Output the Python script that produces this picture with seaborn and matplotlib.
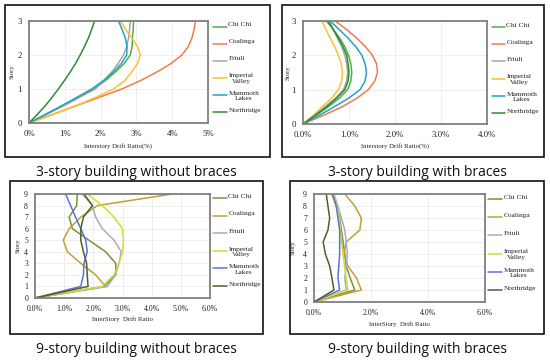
import numpy as np
import pandas as pd
import matplotlib
matplotlib.use("Agg")
import matplotlib.pyplot as plt
import seaborn as sns
from matplotlib.patches import Rectangle
from matplotlib.lines import Line2D

# canvas size in px (dpi 100)
W, H = 550, 361

quakes = ["Chi Chi", "Coalinga", "Friuli", "Imperial\nValley", "Mammoth\nLakes", "Northridge"]

# story levels read on the curves
story3 = [0, 0.25, 0.5, 0.75, 1, 1.25, 1.5, 1.75, 2, 2.25, 2.5, 2.75, 3]
story9 = [0, 1, 2, 3, 4, 5, 6, 7, 8, 9]

# interstory drift ratio (%) - 3-story without braces
chichi_3a = [0, 0.46, 0.91, 1.36, 1.80, 2.14, 2.41, 2.66, 2.83, 2.88, 2.89, 2.91, 2.92]
coalinga_3a = [0, 0.66, 1.29, 1.95, 2.59, 3.12, 3.57, 3.97, 4.27, 4.45, 4.55, 4.61, 4.65]
friuli_3a = [0, 0.49, 0.96, 1.41, 1.85, 2.10, 2.31, 2.49, 2.64, 2.73, 2.78, 2.81, 2.83]
imperial_3a = [0, 0.66, 1.29, 1.86, 2.36, 2.68, 2.87, 3.03, 3.11, 3.03, 2.87, 2.70, 2.55]
mammoth_3a = [0, 0.46, 0.90, 1.33, 1.75, 2.08, 2.36, 2.58, 2.73, 2.74, 2.69, 2.60, 2.50]
northridge_3a = [0, 0.23, 0.45, 0.64, 0.82, 0.99, 1.15, 1.30, 1.43, 1.55, 1.66, 1.75, 1.83]

# 3-story with braces
chichi_3b = [0, 0.28, 0.55, 0.79, 0.97, 1.04, 1.06, 1.04, 0.99, 0.91, 0.80, 0.66, 0.51]
coalinga_3b = [0, 0.44, 0.85, 1.17, 1.42, 1.56, 1.62, 1.60, 1.51, 1.36, 1.17, 0.95, 0.70]
friuli_3b = [0, 0.25, 0.48, 0.70, 0.88, 0.95, 0.97, 0.95, 0.91, 0.84, 0.75, 0.66, 0.57]
imperial_3b = [0, 0.22, 0.42, 0.62, 0.77, 0.84, 0.86, 0.83, 0.77, 0.69, 0.59, 0.50, 0.41]
mammoth_3b = [0, 0.35, 0.68, 0.99, 1.24, 1.35, 1.38, 1.35, 1.28, 1.15, 0.98, 0.79, 0.59]
northridge_3b = [0, 0.26, 0.51, 0.73, 0.91, 0.98, 1.00, 0.98, 0.95, 0.87, 0.77, 0.66, 0.54]

# 9-story without braces
chichi_9a = [0, 2.37, 2.77, 2.77, 2.42, 1.85, 1.28, 1.17, 1.43, 1.45]
coalinga_9a = [0, 2.42, 2.08, 1.57, 1.11, 0.97, 1.17, 1.57, 2.14, 4.71]
friuli_9a = [0, 2.48, 2.76, 2.88, 2.96, 2.71, 2.31, 2.08, 1.97, 1.62]
imperial_9a = [0, 2.30, 2.71, 2.88, 3.00, 3.03, 3.00, 2.71, 2.31, 1.79]
mammoth_9a = [0, 1.57, 1.66, 1.68, 1.79, 1.74, 1.57, 1.39, 1.22, 1.05]
northridge_9a = [0, 1.82, 1.79, 1.77, 1.66, 1.57, 1.57, 1.66, 1.97, 1.68]

# 9-story with braces
chichi_9b = [0, 1.43, 1.27, 1.13, 1.08, 1.02, 0.96, 0.90, 0.78, 0.63]
coalinga_9b = [0, 1.66, 1.49, 1.19, 1.05, 1.13, 1.61, 1.66, 1.43, 1.08]
friuli_9b = [0, 1.13, 1.08, 1.13, 1.17, 1.13, 1.08, 0.96, 0.84, 0.70]
imperial_9b = [0, 1.19, 1.13, 1.07, 1.02, 0.96, 0.93, 0.88, 0.80, 0.70]
mammoth_9b = [0, 0.90, 0.84, 0.87, 0.90, 0.90, 0.90, 0.84, 0.78, 0.66]
northridge_9b = [0, 0.70, 0.63, 0.55, 0.40, 0.32, 0.49, 0.55, 0.49, 0.43]

ticks_3a = ["0%", "1%", "2%", "3%", "4%", "5%"]
ticks_3b = ["0.0%", "1.0%", "2.0%", "3.0%", "4.0%"]
ticks_9a = ["0.0%", "1.0%", "2.0%", "3.0%", "4.0%", "5.0%", "6.0%"]
ticks_9b = ["0.0%", "2.0%", "4.0%", "6.0%"]

colors_top = ["#4DB04A", "#F47A4A", "#A5A5A5", "#FCC030", "#22A4C8", "#2F8A3A"]
colors_bot = ["#76923C", "#C0A034", "#A9A9C4", "#D6DB2A", "#5A74D6", "#4F6228"]


def make_df(stories, series):
    rows = []
    for name, vals in zip(quakes, series):
        for s, v in zip(stories, vals):
            rows.append({"quake": name, "story": s, "drift": v})
    return pd.DataFrame(rows)


panels = [
    dict(df=make_df(story3, [chichi_3a, coalinga_3a, friuli_3a, imperial_3a, mammoth_3a, northridge_3a]),
         rect=(29, 21, 208, 123), xmax=5, ymax=3, xticks=[0, 1, 2, 3, 4, 5], xlabels=ticks_3a,
         xlabel="Interstory Drift Ratio(%)", colors=colors_top,
         xlab_y=146, ylab_x=12, leg=(213, 227, 26.5, 17.1), tick_fs=6.3,
         box=(5, 5, 270, 157), caption="3-story building without braces", cap=(136, 172)),
    dict(df=make_df(story3, [chichi_3b, coalinga_3b, friuli_3b, imperial_3b, mammoth_3b, northridge_3b]),
         rect=(303, 21, 487, 124), xmax=4, ymax=3, xticks=[0, 1, 2, 3, 4], xlabels=ticks_3b,
         xlabel="Interstory Drift Ratio(%)", colors=colors_top,
         xlab_y=146, ylab_x=288, leg=(492, 505, 27, 17.2), tick_fs=6.3,
         box=(282, 5, 544, 157), caption="3-story building with braces", cap=(417, 172)),
    dict(df=make_df(story9, [chichi_9a, coalinga_9a, friuli_9a, imperial_9a, mammoth_9a, northridge_9a]),
         rect=(35, 194, 210, 298), xmax=6, ymax=9, xticks=[0, 1, 2, 3, 4, 5, 6], xlabels=ticks_9a,
         xlabel="InterStory  Drift Ratio", colors=colors_bot,
         xlab_y=319, ylab_x=18, leg=(213, 227, 198, 17.6), tick_fs=5.6,
         box=(10, 181, 263, 334), caption="9-story building without braces", cap=(136, 349.5)),
    dict(df=make_df(story9, [chichi_9b, coalinga_9b, friuli_9b, imperial_9b, mammoth_9b, northridge_9b]),
         rect=(314, 194, 485, 302), xmax=6, ymax=9, xticks=[0, 2, 4, 6], xlabels=ticks_9b,
         xlabel="InterStory  Drift Ratio", colors=colors_bot,
         xlab_y=324, ylab_x=293, leg=(488, 502, 199, 18.2), tick_fs=5.6,
         box=(290, 181, 544, 334), caption="9-story building with braces", cap=(417, 349.5)),
]

sns.set_style("white")
plt.rcParams["font.family"] = ["Liberation Serif", "DejaVu Serif"]

fig = plt.figure(figsize=(W / 100, H / 100), dpi=100)
fig.patch.set_facecolor("white")

for p in panels:
    l, t, r, b = p["rect"]
    ax = fig.add_axes([l / W, 1 - b / H, (r - l) / W, (b - t) / H])
    sns.lineplot(data=p["df"], x="drift", y="story", hue="quake", hue_order=quakes,
                 palette=p["colors"], orient="y", estimator=None, sort=False,
                 legend=False, linewidth=1.1, ax=ax)
    ax.set_xlim(0, p["xmax"])
    ax.set_ylim(0, p["ymax"])
    ax.set_xticks(p["xticks"])
    ax.set_xticklabels(p["xlabels"])
    ax.set_yticks(range(p["ymax"] + 1))
    ax.tick_params(length=0, pad=5, labelsize=p["tick_fs"], colors="#222222")
    ax.grid(True, color="#EBEBEB", linewidth=0.6)
    for sp in ax.spines.values():
        sp.set_color("#7F7F7F")
        sp.set_linewidth(1.3)

    # axis labels placed in pixel terms
    ax.set_xlabel(p["xlabel"], fontsize=4.9, color="#222222", va="center")
    ax.xaxis.set_label_coords(0.5, (b - p["xlab_y"]) / (b - t))
    ax.set_ylabel("Story", fontsize=4.9, color="#222222", va="center")
    ax.yaxis.set_label_coords((p["ylab_x"] - l) / (r - l), 0.5)

    # legend to the right (handle on first text line)
    x0, x1, y0, step = p["leg"]
    for i, (name, c) in enumerate(zip(quakes, p["colors"])):
        yy = y0 + i * step
        fig.add_artist(Line2D([x0 / W, x1 / W], [1 - yy / H, 1 - yy / H], color=c, lw=1.1))
        fig.text((x1 + 1.5) / W, 1 - (yy - 4.3) / H, name, fontsize=5.3, color="#222222",
                 ha="left", va="top", multialignment="center")

    # outer box and caption
    bl, bt, br, bb = p["box"]
    fig.add_artist(Rectangle((bl / W, 1 - bb / H), (br - bl) / W, (bb - bt) / H,
                             fill=False, edgecolor="#111111", lw=1.2))
    fig.text(p["cap"][0] / W, 1 - p["cap"][1] / H, p["caption"], fontsize=10,
             family=["Open Sans", "DejaVu Sans"], ha="center", va="center", color="#111111")

fig.savefig("out.png", dpi=100)
